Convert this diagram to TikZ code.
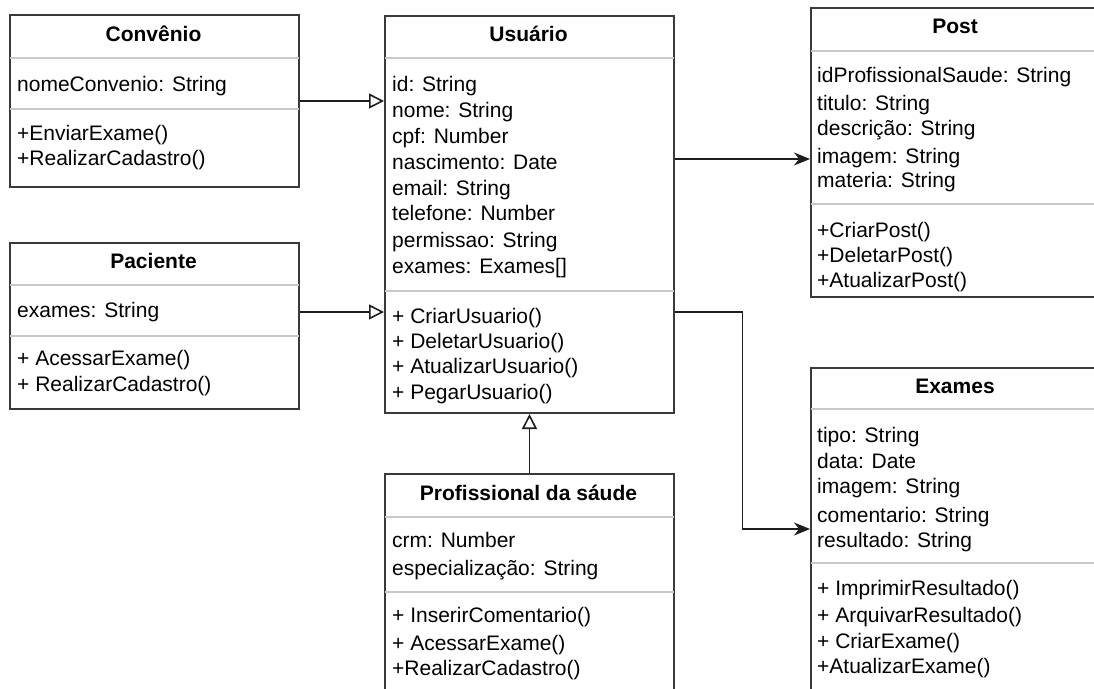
\documentclass[tikz,border=0pt]{standalone}
\usepackage{fontspec}
\setmainfont{Liberation Sans}
\usetikzlibrary{arrows.meta,calc}
\definecolor{boxline}{HTML}{3A3A3A}
\definecolor{sepline}{HTML}{C8C8C8}
\definecolor{wire}{HTML}{1E1E1E}
\tikzset{
  classbox/.style={draw=boxline, line width=2pt, fill=white, anchor=north west,
    inner sep=0pt, minimum width=289pt},
  sepline/.style={draw=sepline, line width=2pt},
  ttl/.style={font=\fontsize{21}{24}\selectfont\bfseries, anchor=base, inner sep=0pt},
  mem/.style={font=\fontsize{21}{24}\selectfont, anchor=base west, inner sep=0pt},
  gen/.style={draw=wire, line width=1.8pt,
    -{Triangle[open, length=15pt, width=15pt, line width=1.6pt]}},
  assoc/.style={draw=wire, line width=1.8pt,
    -{Stealth[length=16pt, width=13pt, inset=5pt]}},
}
\begin{document}
\begin{tikzpicture}[x=1pt,y=-1pt]
\useasboundingbox (0,0) rectangle (1094,688);
\fill[white] (0,0) rectangle (1094,688);
\clip (0,0) rectangle (1094,688);

% ---- class boxes ----
\node[classbox, minimum height=172pt] (conv) at (9,14) {};
\node[classbox, minimum height=397pt] (usu) at (384,15) {};
\node[classbox, minimum width=290pt, minimum height=289pt] (post) at (810,7) {};
\node[classbox, minimum height=166pt] (pac) at (9,242) {};
\node[classbox, minimum height=240pt] (prof) at (384,473) {};
\node[classbox, minimum width=290pt, minimum height=340pt] (exa) at (810,367) {};

% ---- compartment separators ----
\foreach \b/\ya/\yb in {conv/58/109, usu/58/291, post/51/204, pac/285/336, prof/517/592, exa/409/563}{
  \draw[sepline] ([xshift=1pt]\b.west |- 0,\ya) -- ([xshift=-1pt]\b.east |- 0,\ya);
  \draw[sepline] ([xshift=1pt]\b.west |- 0,\yb) -- ([xshift=-1pt]\b.east |- 0,\yb);
}

% ---- Convênio ----
\node[ttl] (convT) at (153.5,41) {Convênio};
\node[mem] (convA1) at (17,91) {nomeConvenio: String};
\node[mem] (convM1) at (17,140) {+EnviarExame()};
\node[mem] (convM2) at (17,165) {+RealizarCadastro()};

% ---- Usuário ----
\node[ttl] (usuT) at (528.5,41) {Usuário};
\node[mem] (usuA1) at (392,91) {id: String};
\node[mem] (usuA2) at (392,117) {nome: String};
\node[mem] (usuA3) at (392,143) {cpf: Number};
\node[mem] (usuA4) at (392,169) {nascimento: Date};
\node[mem] (usuA5) at (392,195) {email: String};
\node[mem] (usuA6) at (392,220) {telefone: Number};
\node[mem] (usuA7) at (392,247) {permissao: String};
\node[mem] (usuA8) at (392,273) {exames: Exames[]};
\node[mem] (usuM1) at (392,323) {+ CriarUsuario()};
\node[mem] (usuM2) at (392,348) {+ DeletarUsuario()};
\node[mem] (usuM3) at (392,373) {+ AtualizarUsuario()};
\node[mem] (usuM4) at (392,399) {+ PegarUsuario()};

% ---- Post ----
\node[ttl] (postT) at (955,33) {Post};
\node[mem] (postA1) at (817,82) {idProfissionalSaude: String};
\node[mem] (postA2) at (817,110) {titulo: String};
\node[mem] (postA3) at (817,135) {descrição: String};
\node[mem] (postA4) at (817,163) {imagem: String};
\node[mem] (postA5) at (817,187) {materia: String};
\node[mem] (postM1) at (817,237) {+CriarPost()};
\node[mem] (postM2) at (817,262) {+DeletarPost()};
\node[mem] (postM3) at (817,287) {+AtualizarPost()};

% ---- Paciente ----
\node[ttl] (pacT) at (153.5,268) {Paciente};
\node[mem] (pacA1) at (17,317) {exames: String};
\node[mem] (pacM1) at (17,365) {+ AcessarExame()};
\node[mem] (pacM2) at (17,391) {+ RealizarCadastro()};

% ---- Profissional da sáude ----
\node[ttl] (profT) at (528.5,500) {Profissional da sáude};
\node[mem] (profA1) at (392,547) {crm: Number};
\node[mem] (profA2) at (392,575) {especialização: String};
\node[mem] (profM1) at (392,622) {+ InserirComentario()};
\node[mem] (profM2) at (392,650) {+ AcessarExame()};
\node[mem] (profM3) at (392,675) {+RealizarCadastro()};

% ---- Exames ----
\node[ttl] (exaT) at (955,393) {Exames};
\node[mem] (exaA1) at (817,442) {tipo: String};
\node[mem] (exaA2) at (817,468) {data: Date};
\node[mem] (exaA3) at (817,493) {imagem: String};
\node[mem] (exaA4) at (817,522) {comentario: String};
\node[mem] (exaA5) at (817,547) {resultado: String};
\node[mem] (exaM1) at (817,595) {+ ImprimirResultado()};
\node[mem] (exaM2) at (817,622) {+ ArquivarResultado()};
\node[mem] (exaM3) at (817,648) {+ CriarExame()};
\node[mem] (exaM4) at (817,673) {+AtualizarExame()};

% ---- connector end points on the box borders ----
\coordinate (pacOut) at ([yshift=-70pt]pac.north east);
\coordinate (usuToPost) at ([yshift=-144pt]usu.north east);
\coordinate (usuToExa) at ([yshift=-297pt]usu.north east);
\coordinate (exaIn) at ([yshift=-162pt]exa.north west);

% ---- generalizations ----
\draw[gen] (conv.east) -- (conv.east -| usu.west);
\draw[gen] (pacOut) -- (pacOut -| usu.west);
\draw[gen] (prof.north) -- (usu.south);

% ---- associations ----
\draw[assoc] (usuToPost) -- (usuToPost -| post.west);
\draw[assoc] (usuToExa) -| ($(usuToExa)!0.5!(exaIn)$) |- (exaIn);
\end{tikzpicture}
\end{document}
